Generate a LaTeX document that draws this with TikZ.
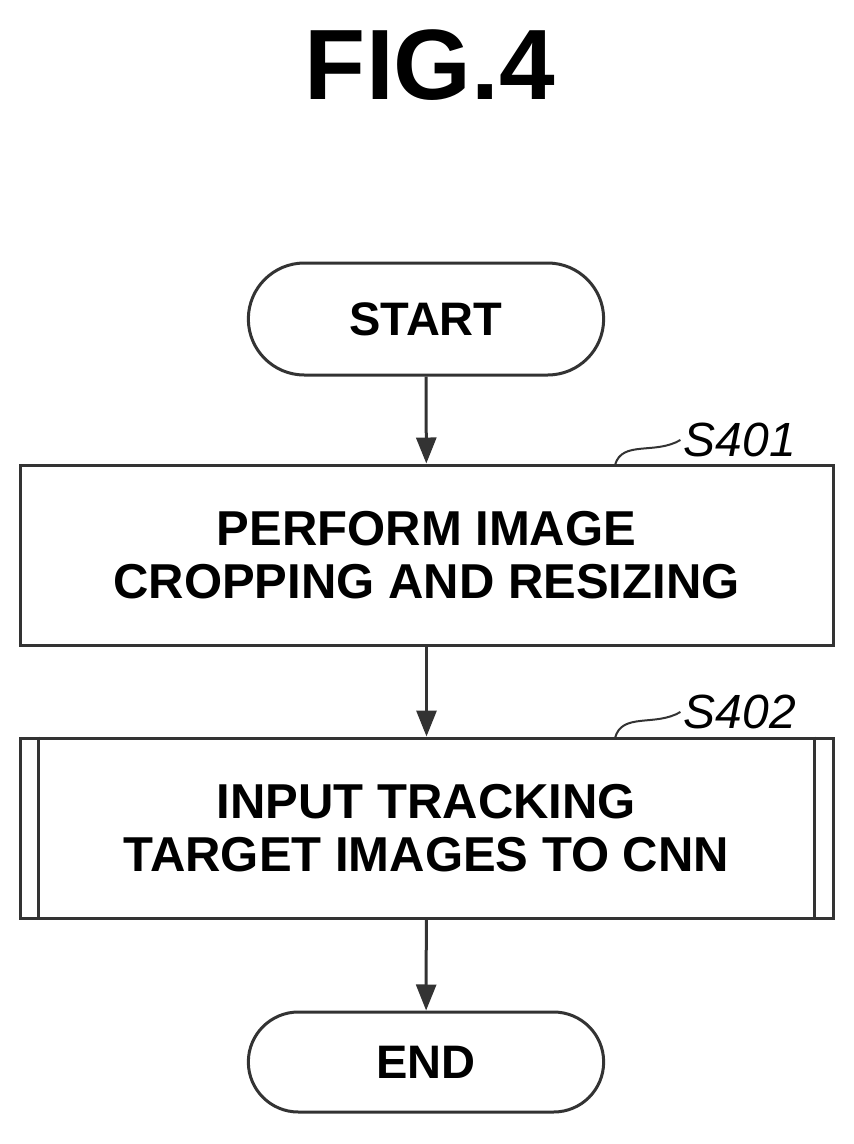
\documentclass[tikz,border=0pt]{standalone}
\usepackage{fontspec}
\setmainfont{Liberation Sans}
\usetikzlibrary{arrows.meta,shapes.misc}
\begin{document}
\begin{tikzpicture}[x=1pt,y=-1pt,
  ln/.style={line width=3pt,draw=black!80},
  term/.style={ln,rounded rectangle,minimum width=362pt,minimum height=112pt,font=\fontsize{47}{52}\selectfont\bfseries},
  proc/.style={ln,rectangle,minimum width=813pt,minimum height=180pt,align=center,font=\fontsize{49}{53}\selectfont\bfseries},
  arr/.style={ln,-{Triangle[length=26pt,width=20pt]}},
  lab/.style={font=\fontsize{48}{52}\selectfont\itshape}]
\useasboundingbox (0,0) rectangle (854,1144);
\node[font=\fontsize{100}{110}\selectfont\bfseries] (title) at (430,65) {FIG.4};
\node[term] (start) at (426,319) {START};
\node[proc] (p1) at (426.5,555) {PERFORM IMAGE\\CROPPING AND RESIZING};
\node[proc] (p2) at (426.5,828) {INPUT TRACKING\\TARGET IMAGES TO CNN};
\draw[ln] ([xshift=20pt]p2.north west) -- ([xshift=20pt]p2.south west);
\draw[ln] ([xshift=-20pt]p2.north east) -- ([xshift=-20pt]p2.south east);
\node[term,minimum height=100pt] (end) at (426,1062) {END};
\node[lab] (s1) at (740,440) {S401};
\node[lab] (s2) at (740,712) {S402};
\coordinate (c1) at (615,465);
\coordinate (c2) at (615,738);
\draw[ln,line width=2pt] (c1) .. controls (622,440) and (655,455) .. (s1.west);
\draw[ln,line width=2pt] (c2) .. controls (622,712) and (655,727) .. (s2.west);
\draw[arr] (start) -- (p1);
\draw[arr] (p1) -- (p2);
\draw[arr] (p2) -- (end);
\end{tikzpicture}
\end{document}
